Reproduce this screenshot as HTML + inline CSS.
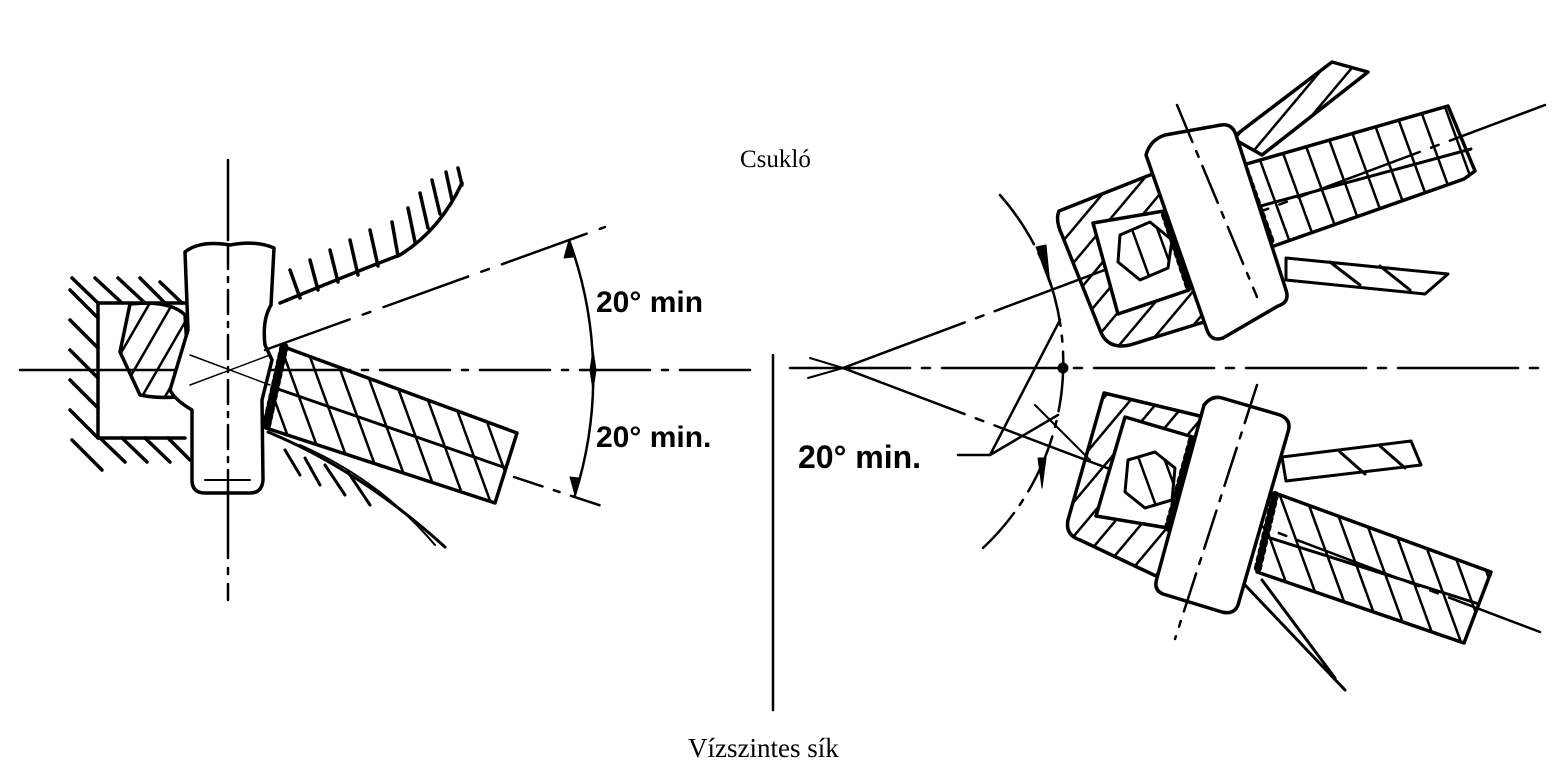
<!DOCTYPE html>
<html><head><meta charset="utf-8"><style>
html,body{margin:0;padding:0;background:#fff;}
svg{display:block;}
</style></head><body>
<svg width="1562" height="776" viewBox="0 0 1562 776" xmlns="http://www.w3.org/2000/svg">
<defs>
<pattern id="h1" patternUnits="userSpaceOnUse" width="20" height="20" patternTransform="rotate(30)">
<line x1="0" y1="0" x2="0" y2="20" stroke="#000" stroke-width="5"/></pattern>
<pattern id="h2" patternUnits="userSpaceOnUse" width="24" height="24" patternTransform="rotate(-20)">
<line x1="0" y1="0" x2="0" y2="24" stroke="#000" stroke-width="5"/></pattern>
<pattern id="h3" patternUnits="userSpaceOnUse" width="22" height="22" patternTransform="rotate(40)">
<line x1="0" y1="0" x2="0" y2="22" stroke="#000" stroke-width="5"/></pattern>
</defs>
<g fill="none" stroke="#000" stroke-linecap="round" stroke-linejoin="round">
<line x1="20" y1="370" x2="280" y2="370" stroke-width="2.5"/>
<line x1="280" y1="370" x2="760" y2="370" stroke-width="2.5" stroke-dasharray="70 12 6 12"/>
<line x1="228" y1="160" x2="228" y2="600" stroke-width="2.5" stroke-dasharray="80 10 6 10"/>
<path d="M98 303 H185 M98 303 V438 H185" stroke-width="3.5"/>
<g stroke-width="3.5">
<line x1="70" y1="290" x2="98" y2="318"/><line x1="70" y1="320" x2="98" y2="348"/><line x1="70" y1="350" x2="98" y2="378"/><line x1="70" y1="380" x2="98" y2="408"/><line x1="70" y1="410" x2="98" y2="438"/><line x1="72" y1="440" x2="102" y2="470"/>
<line x1="72" y1="278" x2="98" y2="303"/><line x1="95" y1="278" x2="122" y2="303"/><line x1="118" y1="278" x2="145" y2="303"/><line x1="140" y1="278" x2="165" y2="303"/><line x1="160" y1="282" x2="182" y2="303"/>
<line x1="100" y1="438" x2="125" y2="462"/><line x1="122" y1="438" x2="147" y2="462"/><line x1="145" y1="438" x2="170" y2="462"/><line x1="168" y1="438" x2="190" y2="460"/>
</g>
<path d="M130 304 Q170 300 185 315 L190 395 Q165 400 140 395 L120 352 Z" fill="url(#h1)" stroke-width="3.5"/>
<path d="M185 252 Q200 240 230 245 Q255 240 274 248 L271 305 Q262 320 265 345 L272 360 L262 400 L263 480 Q262 493 250 493 L205 493 Q192 493 192 480 L192 410 Q175 400 170 390 L188 330 Z" fill="#fff" stroke-width="3.5"/>
<line x1="205" y1="480" x2="250" y2="480" stroke-width="2"/>
<line x1="228" y1="245" x2="228" y2="493" stroke-width="2.5" stroke-dasharray="24 8 5 8"/>
<line x1="190" y1="355" x2="270" y2="385" stroke-width="1.5"/><line x1="190" y1="385" x2="270" y2="355" stroke-width="1.5"/>
<polygon points="284,347 517,433 495,503 266,428" fill="url(#h2)" stroke-width="3.5"/>
<line x1="275" y1="388" x2="506" y2="468" stroke-width="3"/>
<path d="M284 347 L266 428" stroke-width="9" stroke="#000" stroke-dasharray="3 4"/>
<path d="M268 432 Q360 470 445 547" stroke-width="3"/>
<path d="M300 445 Q380 480 435 545" stroke-width="2"/>
<g stroke-width="3"><line x1="285" y1="450" x2="300" y2="475"/><line x1="305" y1="458" x2="320" y2="485"/><line x1="325" y1="465" x2="345" y2="495"/><line x1="348" y1="472" x2="370" y2="505"/></g>
<path d="M280 303 Q360 270 400 255 Q440 230 462 183" stroke-width="3.5"/>
<g stroke-width="3.5"><line x1="290" y1="270" x2="300" y2="298"/><line x1="310" y1="260" x2="318" y2="290"/><line x1="330" y1="250" x2="338" y2="282"/><line x1="350" y1="240" x2="358" y2="275"/><line x1="370" y1="230" x2="378" y2="266"/><line x1="392" y1="222" x2="398" y2="256"/><line x1="408" y1="208" x2="415" y2="242"/><line x1="420" y1="193" x2="428" y2="228"/><line x1="432" y1="180" x2="440" y2="214"/><line x1="446" y1="172" x2="452" y2="200"/><line x1="458" y1="168" x2="462" y2="185"/></g>
<line x1="265" y1="350" x2="605" y2="227" stroke-width="2.5" stroke-dasharray="90 14 8 14"/>
<line x1="514" y1="477" x2="605" y2="507" stroke-width="2.5" stroke-dasharray="30 12 6 12"/>
<path d="M569 240 A395 395 0 0 1 575 495" stroke-width="2.5"/>
<path d="M569 240 l-5 18 l9 -1 Z M575 495 l-5 -18 l9 1 Z" fill="#000"/>
<path d="M593 350 l-3 20 l3 20 l3 -20 Z" fill="#000"/>

<line x1="773" y1="355" x2="773" y2="710" stroke-width="2.5"/>
<line x1="790" y1="368" x2="1550" y2="368" stroke-width="2.5" stroke-dasharray="120 12 8 12"/>
<line x1="810" y1="358" x2="843" y2="368" stroke-width="2"/><line x1="808" y1="378" x2="843" y2="368" stroke-width="2"/>
<line x1="843" y1="368" x2="1545" y2="105" stroke-width="2.5" stroke-dasharray="130 12 8 12"/>
<line x1="843" y1="368" x2="1540" y2="632" stroke-width="2.5" stroke-dasharray="130 12 8 12"/>
<path d="M1000 195 A254 254 0 0 1 983 548" stroke-width="2.5" stroke-dasharray="60 10 6 10"/>
<path d="M1036 247 l10 -2 l4 40 Z M1042 488 l-4 -30 l8 0 Z" fill="#000"/>
<circle cx="1063" cy="368" r="5" fill="#000"/>
<path d="M958 455 H990 L1060 320 M990 455 L1058 415" stroke-width="2.5"/>
<line x1="1035" y1="405" x2="1090" y2="460" stroke-width="2"/>

<polygon points="1232,138 1332,62 1368,72 1262,155" fill="url(#h3)" stroke-width="3.5"/>
<polygon points="1243,165 1448,106 1475,171 1464,179 1271,247" fill="url(#h2)" stroke-width="3.5"/>
<line x1="1257" y1="207" x2="1471" y2="149" stroke-width="3"/>
<polygon points="1286,258 1448,274 1425,294 1286,280" fill="#fff" stroke-width="3"/>
<line x1="1330" y1="262" x2="1360" y2="285" stroke-width="3"/><line x1="1380" y1="266" x2="1410" y2="290" stroke-width="3"/>
<path d="M1059 211 L1150 175 L1215 160 L1204 322 L1130 345 Q1107 350 1100 330 L1062 235 Q1055 220 1059 211 Z" fill="url(#h3)" stroke-width="3.5"/>
<polygon points="1093,223 1164,211 1189,290 1118,314" fill="#fff" stroke-width="3.5"/>
<polygon points="1120,235 1150,222 1172,240 1168,268 1140,280 1118,262" fill="url(#h2)" stroke-width="3"/>
<path d="M1165 215 L1190 290" stroke-width="8" stroke-dasharray="3 5"/>
<path d="M1245 170 L1272 245" stroke-width="8" stroke-dasharray="3 5"/>
<path d="M1146 155 Q1150 140 1165 135 L1221 125 Q1232 123 1236 135 L1286 290 Q1290 302 1278 306 L1223 338 Q1211 342 1207 330 Z" fill="#fff" stroke-width="3.5"/>
<line x1="1177" y1="105" x2="1257" y2="297" stroke-width="2.5" stroke-dasharray="40 10 6 10"/>

<polygon points="1275,493 1491,572 1464,643 1257,572" fill="url(#h2)" stroke-width="3.5"/>
<line x1="1264" y1="536" x2="1479" y2="604" stroke-width="3"/>
<polygon points="1282,457 1411,441 1421,465 1286,481" fill="#fff" stroke-width="3"/>
<line x1="1340" y1="452" x2="1365" y2="474" stroke-width="3"/><line x1="1380" y1="446" x2="1405" y2="468" stroke-width="3"/>
<path d="M1245 585 L1345 690 M1262 580 L1335 678" stroke-width="3"/>
<path d="M1104 393 L1204 417 L1175 585 L1080 540 Q1065 535 1068 520 Z" fill="url(#h3)" stroke-width="3.5"/>
<polygon points="1125,417 1193,437 1168,528 1096,516" fill="#fff" stroke-width="3.5"/>
<polygon points="1128,460 1155,452 1175,468 1172,500 1145,508 1125,492" fill="url(#h2)" stroke-width="3"/>
<path d="M1192 440 L1168 528" stroke-width="8" stroke-dasharray="3 5"/>
<path d="M1275 495 L1257 572" stroke-width="8" stroke-dasharray="3 5"/>
<path d="M1204 405 Q1212 395 1222 398 L1280 415 Q1292 420 1288 432 L1238 605 Q1234 615 1222 612 L1163 594 Q1153 590 1157 578 Z" fill="#fff" stroke-width="3.5"/>
<line x1="1257" y1="385" x2="1175" y2="639" stroke-width="2.5" stroke-dasharray="40 10 6 10"/>
</g>
<g font-family="'Liberation Sans', sans-serif" font-weight="bold" font-size="30" fill="#000">
<text x="596" y="312">20° min</text>
<text x="596" y="447">20° min.</text>
<text x="798" y="468" font-size="32">20° min.</text>
</g>
<g font-family="'Liberation Serif', serif" font-size="25" fill="#000">
<text x="740" y="167">Csukló</text>
<text x="688" y="757" font-size="27">Vízszintes sík</text>
</g>
</svg>
</body></html>
